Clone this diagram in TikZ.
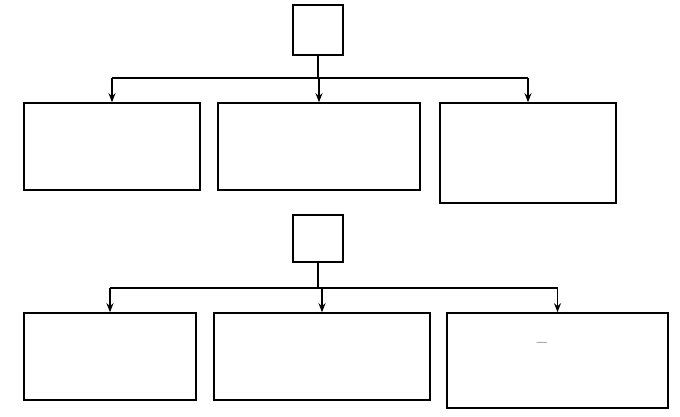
\documentclass[tikz,border=0pt]{standalone}
\usepackage{fontspec}
\usetikzlibrary{arrows.meta,positioning}
\tikzset{
    box/.style={draw, line width=1.6pt, align=center, font=\fontsize{22}{30}\selectfont, inner sep=0pt},
    link/.style={line width=1.6pt},
    arr/.style={line width=1.6pt, -{Stealth[length=9pt,width=7pt]}}
}
\begin{document}
\begin{tikzpicture}[x=1pt,y=-1pt]
    \useasboundingbox (0,0) rectangle (680,416);

    % upper block
    \node[box, minimum width=50pt, minimum height=50pt] (k) at (318,30) {ক};
    \node[box, minimum width=176pt, minimum height=87pt] (k1) at (112,146.5) {৫টি স্থায়ী\\সদস্য};
    \node[box, minimum width=202pt, minimum height=87pt] (k2) at (319,146.5) {সবচেয়ে গুরুত্বপূর্ণ\\পরিষদ};
    \node[box, minimum width=176pt, minimum height=100pt] (k3) at (528,153) {মোট সদস্য\\সংখ্যা ১৫টি};
    \coordinate (kh) at (318,78);
    \draw[arr] (k) -- (kh) -- (kh -| k2.north) -- (k2.north);
    \draw[link] (kh -| k1.north) -- (kh -| k3.north);
    \draw[arr] (kh -| k1.north) -- (k1.north);
    \draw[arr] (kh -| k3.north) -- (k3.north);

    % lower block
    \node[box, minimum width=50pt, minimum height=47pt] (kh2) at (318,238.5) {খ};
    \node[box, minimum width=172pt, minimum height=87pt] (l1) at (110,356.5) {১৩২টি মোট\\সদস্য};
    \node[box, minimum width=216pt, minimum height=87pt] (l2) at (322,356.5) {১৯৯৫ সালে ৪র্থ\\বিশ্ব নারী সম্মেলন};
    \node[box, minimum width=221pt, minimum height=95pt] (l3) at (557.5,360.5) {১৯৭৬--১৯৮৫ নারী\\দশক ঘোষণা};
    \coordinate (lh) at (318,288);
    \draw[link] (kh2) -- (lh);
    \draw[link] (lh -| l1.north) -- (lh -| l3.north);
    \draw[arr] (lh -| l1.north) -- (l1.north);
    \draw[arr] (lh -| l2.north) -- (l2.north);
    \draw[arr] (lh -| l3.north) -- (l3.north);
\end{tikzpicture}
\end{document}
